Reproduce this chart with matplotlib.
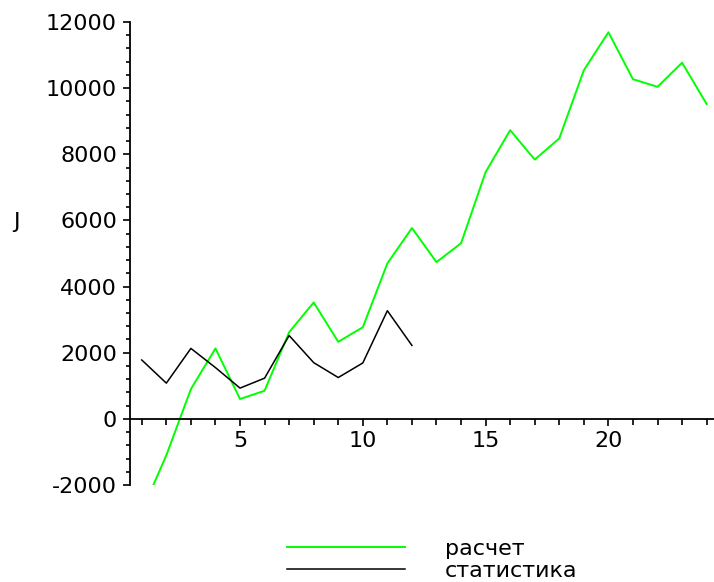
import matplotlib
matplotlib.use("Agg")
import matplotlib.pyplot as plt
from matplotlib.ticker import MultipleLocator

# месяцы
months = list(range(1, 25))
months_stat = list(range(1, 13))

# расчетная модель и статистика
raschet = [-2800, -1100, 900, 2130, 600, 850, 2620, 3520, 2330, 2770, 4700, 5770,
           4740, 5310, 7460, 8730, 7840, 8480, 10540, 11690, 10270, 10040, 10770, 9520]
statistika = [1780, 1080, 2130, 1550, 930, 1230, 2520, 1700, 1250, 1690, 3270, 2220]

plt.rcParams['font.family'] = 'DejaVu Sans'
plt.rcParams['font.size'] = 16
plt.rcParams['axes.unicode_minus'] = False

fig = plt.figure(figsize=(7.14, 5.82), dpi=100)
ax = fig.add_axes([129.5 / 714, 1 - 485 / 582, 1 - 129.5 / 714, (485 - 22) / 582])

l1, = ax.plot(months, raschet, color='#00ff00', lw=1.4)
l2, = ax.plot(months_stat, statistika, color='black', lw=1.1)

ax.set_xlim(0.5, 24.3)
ax.set_ylim(-2000, 12000)

# оси в стиле Maple: ось X проходит через ноль
ax.spines['top'].set_visible(False)
ax.spines['right'].set_visible(False)
ax.spines['bottom'].set_position(('data', 0))
ax.spines['left'].set_linewidth(1.3)
ax.spines['bottom'].set_linewidth(1.3)

ax.xaxis.set_major_locator(MultipleLocator(5))
ax.xaxis.set_minor_locator(MultipleLocator(1))
ax.yaxis.set_major_locator(MultipleLocator(2000))
ax.yaxis.set_minor_locator(MultipleLocator(400))

ax.tick_params(axis='y', which='major', direction='out', length=5, width=1.2, pad=4)
ax.tick_params(axis='y', which='minor', direction='out', length=3, width=1.2)
ax.tick_params(axis='x', which='major', direction='out', length=5, width=1.2, pad=4)
ax.tick_params(axis='x', which='minor', direction='out', length=4, width=1.2)

fig.text(16 / 714, 1 - 222 / 582, 'J', ha='center', va='center', fontsize=16)

fig.legend([l1, l2], ['расчет', 'статистика'], loc='upper left',
           bbox_to_anchor=(287 / 714, 1 - 539 / 582), frameon=False,
           borderpad=0, borderaxespad=0, handlelength=5.3, handletextpad=1.8,
           labelspacing=0.1, fontsize=16)

fig.savefig('out.png', dpi=100, facecolor='white')
